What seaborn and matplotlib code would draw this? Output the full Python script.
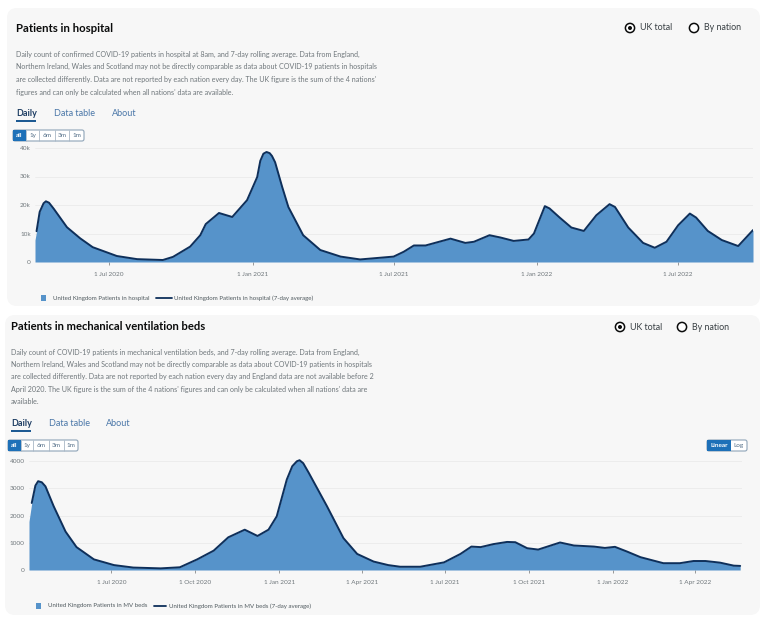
import matplotlib
matplotlib.use("Agg")
import matplotlib.pyplot as plt
import matplotlib.dates as mdates
from matplotlib.patches import FancyBboxPatch, Rectangle, Circle
from matplotlib.transforms import IdentityTransform
import pandas as pd
import seaborn as sns

W, H = 767, 624

# UK patients in hospital, 7-day average
hosp_dates = ["2020-03-30", "2020-04-03", "2020-04-08", "2020-04-11", "2020-04-15",
              "2020-04-21", "2020-05-08", "2020-05-25", "2020-06-10", "2020-06-26",
              "2020-07-11", "2020-08-06", "2020-09-08", "2020-09-21", "2020-10-13",
              "2020-10-26", "2020-11-02", "2020-11-19", "2020-12-06", "2020-12-25",
              "2021-01-07", "2021-01-11", "2021-01-15", "2021-01-19", "2021-01-23",
              "2021-01-26", "2021-01-30", "2021-02-08", "2021-02-16", "2021-03-07",
              "2021-03-29", "2021-04-24", "2021-05-19", "2021-07-01", "2021-07-14",
              "2021-07-27", "2021-08-11", "2021-09-12", "2021-10-01", "2021-10-12",
              "2021-11-01", "2021-11-15", "2021-12-02", "2021-12-21", "2021-12-28",
              "2022-01-11", "2022-01-17", "2022-01-30", "2022-02-14", "2022-03-02",
              "2022-03-18", "2022-04-04", "2022-04-11", "2022-04-28", "2022-05-17",
              "2022-06-01", "2022-06-16", "2022-07-01", "2022-07-16", "2022-07-24",
              "2022-08-08", "2022-08-26", "2022-09-16", "2022-10-05"]
hosp_avg = [10800, 17600, 20600, 21300, 20800,
            18700, 12200, 8300, 5200, 3600,
            2100, 1000, 700, 1800, 5400,
            9400, 13300, 17200, 15800, 21700,
            29800, 35500, 38000, 38600, 38200,
            37200, 35000, 26400, 19300, 9400,
            4200, 1900, 900, 1900, 3600,
            5800, 5800, 8200, 6700, 7100,
            9400, 8600, 7400, 7900, 10000,
            19600, 18800, 15600, 12100, 10900,
            16400, 20300, 19300, 12100, 6700,
            5000, 7100, 12900, 17000, 15600,
            10900, 7700, 5600, 11200]
# daily values before the average starts
hosp_lead_dates = ["2020-03-28"]
hosp_lead = [7700]

# UK patients in mechanical ventilation beds, 7-day average
mv_dates = ["2020-04-05", "2020-04-09", "2020-04-12", "2020-04-16", "2020-04-20",
            "2020-04-29", "2020-05-12", "2020-05-24", "2020-06-12", "2020-07-04",
            "2020-07-25", "2020-08-24", "2020-09-14", "2020-10-03", "2020-10-21",
            "2020-11-06", "2020-11-24", "2020-12-08", "2020-12-20", "2020-12-29",
            "2021-01-09", "2021-01-15", "2021-01-20", "2021-01-23", "2021-01-27",
            "2021-02-02", "2021-02-22", "2021-03-12", "2021-03-27", "2021-04-14",
            "2021-04-30", "2021-05-13", "2021-06-04", "2021-06-30", "2021-07-18",
            "2021-07-30", "2021-08-09", "2021-08-23", "2021-09-07", "2021-09-16",
            "2021-09-29", "2021-10-11", "2021-11-04", "2021-11-19", "2021-12-11",
            "2021-12-23", "2022-01-03", "2022-01-16", "2022-01-31", "2022-02-25",
            "2022-03-15", "2022-03-30", "2022-04-12", "2022-04-28", "2022-05-13",
            "2022-05-20"]
mv_avg = [2460, 3100, 3260, 3220, 3070,
          2340, 1410, 840, 390, 180,
          90, 60, 100, 390, 710,
          1200, 1480, 1250, 1480, 1970,
          3320, 3810, 3990, 4030, 3920,
          3570, 2340, 1170, 590, 310,
          180, 120, 120, 280, 590,
          860, 840, 950, 1030, 1020,
          800, 750, 1010, 900, 860,
          810, 850, 680, 470, 250,
          250, 330, 330, 270, 160,
          150]
mv_lead_dates = ["2020-04-02"]
mv_lead = [1780]

hosp_xlim = ("2020-03-28", "2022-10-05")
mv_xlim = ("2020-04-02", "2022-05-22")

FILL = "#5693ca"
LINE = "#0e2f5a"
CARD = "#f7f7f7"
GREY = "#6f777b"
DARK = "#0b0c0c"
LINK = "#4a77a8"

sns.set_theme(style="white")
plt.rcParams["font.family"] = ["Lato", "DejaVu Sans"]

fig = plt.figure(figsize=(W / 100, H / 100), dpi=100)
fig.patch.set_facecolor("white")
ident = IdentityTransform()


def fx(x):
    return x / W


def fy(y):
    return 1 - y / H


def txt(x, y, s, **kw):
    kw.setdefault("va", "center")
    fig.text(fx(x), fy(y), s, **kw)


def card(x0, y0, x1, y1):
    fig.add_artist(FancyBboxPatch((x0, H - y1), x1 - x0, y1 - y0,
                                  boxstyle="round,pad=0,rounding_size=10",
                                  transform=ident, fc=CARD, ec="none", zorder=0))


def radios(xc1, xc2, y):
    for xc, label, on in [(xc1, "UK total", True), (xc2, "By nation", False)]:
        fig.add_artist(Circle((xc, H - y), 4.6, transform=ident, fc="white",
                              ec=DARK, lw=1.1, zorder=2))
        if on:
            fig.add_artist(Circle((xc, H - y), 2.0, transform=ident, fc=DARK,
                                  ec="none", zorder=3))
        txt(xc + 10, y, label, fontsize=6.4, color="#383f43")


def tabs(x, y, xs):
    txt(xs[0], y, "Daily", fontsize=6.5, color="#1d3d63", fontweight="bold")
    txt(xs[1], y, "Data table", fontsize=6.5, color=LINK)
    txt(xs[2], y, "About", fontsize=6.5, color=LINK)
    fig.add_artist(Rectangle((xs[0], H - y - 8.5), 20, 2, transform=ident,
                             fc="#1d5a93", ec="none"))


def buttons(cells, y0, y1):
    labels = ["all", "1y", "6m", "3m", "1m"]
    x0, x1 = cells[0], cells[-1]
    fig.add_artist(FancyBboxPatch((x0, H - y1), x1 - x0, y1 - y0,
                                  boxstyle="round,pad=0,rounding_size=2",
                                  transform=ident, fc="white", ec="#8ea4b8", lw=0.8))
    for i, lab in enumerate(labels):
        a, b = cells[i], cells[i + 1]
        if i == 0:
            fig.add_artist(Rectangle((a, H - y1), b - a, y1 - y0, transform=ident,
                                     fc="#1d70b8", ec="none"))
        else:
            fig.add_artist(Rectangle((a, H - y1), 0, y1 - y0, transform=ident,
                                     fc="none", ec="#a8b7c5", lw=0.6))
        txt((a + b) / 2, (y0 + y1) / 2, lab, fontsize=4.6, ha="center",
            color="white" if i == 0 else "#4f6b85",
            fontweight="bold" if i == 0 else "normal")


def area(ax, lead_d, lead_v, d, v, xlim, ylim, yticks, ylabels, xticks, xfmt):
    dates = pd.to_datetime(d)
    fill_x = pd.to_datetime(lead_d + d)
    ax.fill_between(fill_x, lead_v + v, 0, color=FILL, lw=0, zorder=2)
    sns.lineplot(x=dates, y=v, ax=ax, color=LINE, lw=1.4, zorder=3)
    ax.set_xlim(pd.to_datetime(xlim[0]), pd.to_datetime(xlim[1]))
    ax.set_ylim(*ylim)
    ax.set_yticks(yticks)
    ax.set_yticklabels(ylabels)
    ax.set_xticks(pd.to_datetime(xticks))
    ax.xaxis.set_major_formatter(mdates.DateFormatter(xfmt))
    ax.set_facecolor("none")
    for s in ax.spines.values():
        s.set_visible(False)
    ax.grid(axis="y", color="#ebebeb", lw=0.6)
    ax.grid(axis="x", visible=False)
    ax.tick_params(axis="y", length=0, pad=3, labelsize=4.6, labelcolor=GREY)
    ax.tick_params(axis="x", length=2, width=0.6, color="#888888", pad=5,
                   labelsize=4.6, labelcolor=GREY, bottom=True)
    ax.set_xlabel("")
    ax.set_ylabel("")


def legend(x_sq, x_t1, x_l0, x_l1, x_t2, y, t1, t2):
    fig.add_artist(Rectangle((x_sq, H - y - 2.6), 5.2, 5.2, transform=ident,
                             fc=FILL, ec="none"))
    txt(x_t1, y, t1, fontsize=4.45, color="#505a5f")
    fig.add_artist(plt.Line2D([x_l0, x_l1], [H - y, H - y], transform=ident,
                              color=LINE, lw=1.3))
    txt(x_t2, y, t2, fontsize=4.45, color="#505a5f")


# ---------------- card 1: hospital ----------------
card(7, 8, 760, 306)
txt(16, 28, "Patients in hospital", fontsize=8.2, fontweight="bold", color=DARK)
radios(630, 694, 28)
desc1 = ["Daily count of confirmed COVID-19 patients in hospital at 8am, and 7-day rolling average. Data from England,",
         "Northern Ireland, Wales and Scotland may not be directly comparable as data about COVID-19 patients in hospitals",
         "are collected differently. Data are not reported by each nation every day. The UK figure is the sum of the 4 nations'",
         "figures and can only be calculated when all nations' data are available."]
for i, line in enumerate(desc1):
    txt(16, 54 + i * 12.8, line, fontsize=5.15, color=GREY)
tabs(16, 113, [16, 54, 112])
buttons([13, 26, 39, 55, 69, 84], 130, 141)

ax1 = fig.add_axes([fx(35), fy(262), (753 - 35) / W, (262 - 148) / H])
area(ax1, hosp_lead_dates, hosp_lead, hosp_dates, hosp_avg, hosp_xlim,
     (0, 40000), [0, 10000, 20000, 30000, 40000], ["0", "10k", "20k", "30k", "40k"],
     ["2020-07-01", "2021-01-01", "2021-07-01", "2022-01-01", "2022-07-01"], "1 %b %Y")
legend(41, 53, 156, 172, 174, 298, "United Kingdom Patients in hospital",
       "United Kingdom Patients in hospital (7-day average)")

# ---------------- card 2: MV beds ----------------
card(5, 315, 760, 615)
txt(11, 327, "Patients in mechanical ventilation beds", fontsize=8.1,
    fontweight="bold", color=DARK)
radios(620, 682, 327)
desc2 = ["Daily count of COVID-19 patients in mechanical ventilation beds, and 7-day rolling average. Data from England,",
         "Northern Ireland, Wales and Scotland may not be directly comparable as data about COVID-19 patients in hospitals",
         "are collected differently. Data are not reported by each nation every day and England data are not available before 2",
         "April 2020. The UK figure is the sum of the 4 nations' figures and can only be calculated when all nations' data are",
         "available."]
for i, line in enumerate(desc2):
    txt(11, 352 + i * 12.4, line, fontsize=5.15, color=GREY)
tabs(11, 423, [11, 49, 106])
buttons([8, 21, 33, 49, 64, 78], 440, 451)

# linear / log toggle
fig.add_artist(FancyBboxPatch((707, H - 451), 40, 11, boxstyle="round,pad=0,rounding_size=2",
                              transform=ident, fc="white", ec="#8ea4b8", lw=0.8))
fig.add_artist(Rectangle((707, H - 451), 24, 11, transform=ident, fc="#1d70b8", ec="none"))
txt(719, 445.5, "Linear", fontsize=4.6, ha="center", color="white", fontweight="bold")
txt(739, 445.5, "Log", fontsize=4.6, ha="center", color="#4f6b85")

ax2 = fig.add_axes([fx(29), fy(570), (742 - 29) / W, (570 - 458.3) / H])
area(ax2, mv_lead_dates, mv_lead, mv_dates, mv_avg, mv_xlim,
     (0, 4100), [0, 1000, 2000, 3000, 4000], ["0", "1000", "2000", "3000", "4000"],
     ["2020-07-01", "2020-10-01", "2021-01-01", "2021-04-01", "2021-07-01",
      "2021-10-01", "2022-01-01", "2022-04-01"], "1 %b %Y")
legend(36, 48, 154, 166, 169, 606, "United Kingdom Patients in MV beds",
       "United Kingdom Patients in MV beds (7-day average)")

fig.savefig("out.png", dpi=100, facecolor="white")
